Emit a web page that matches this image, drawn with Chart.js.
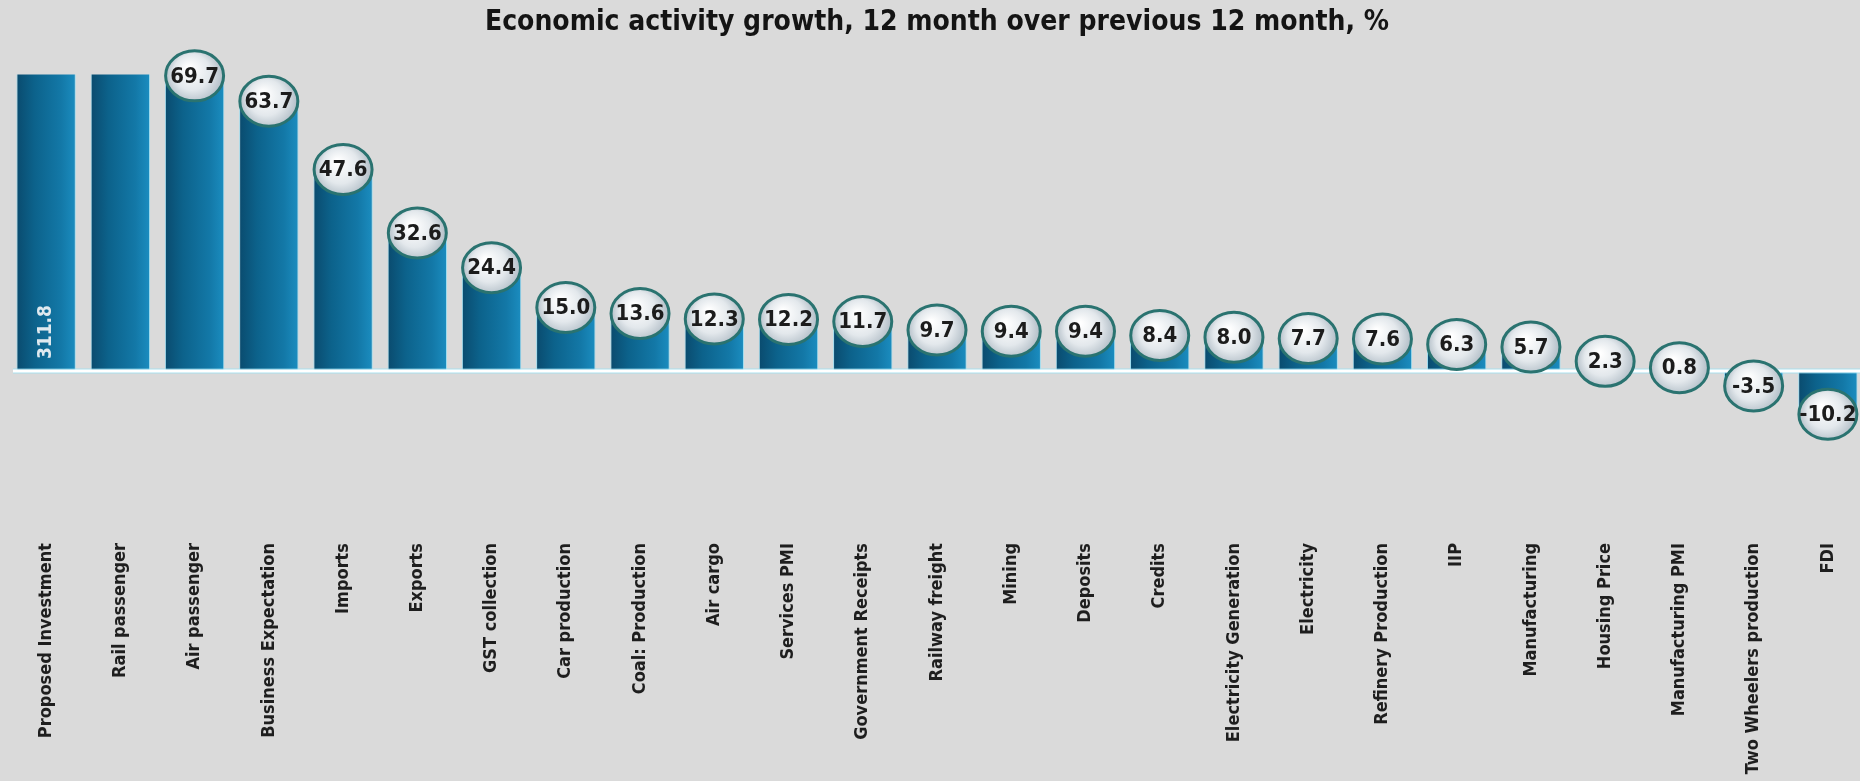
<!DOCTYPE html>
<html>
<head>
<meta charset="utf-8">
<title>Economic activity growth</title>
<script src="https://cdn.jsdelivr.net/npm/chart.js@4.4.1/dist/chart.umd.min.js"></script>
<style>
  html, body { margin: 0; padding: 0; background: #dadada; overflow: hidden; }
  #wrap { width: 1866px; height: 781px; }
</style>
</head>
<body>
<div id="wrap"><canvas id="growthChart" width="1866" height="781"></canvas></div>
<script>
const categories = [
  'Proposed Investment', 'Rail passenger', 'Air passenger', 'Business Expectation',
  'Imports', 'Exports', 'GST collection', 'Car production', 'Coal: Production',
  'Air cargo', 'Services PMI', 'Government Receipts', 'Railway freight', 'Mining',
  'Deposits', 'Credits', 'Electricity Generation', 'Electricity', 'Refinery Production',
  'IIP', 'Manufacturing', 'Housing Price', 'Manufacturing PMI', 'Two Wheelers production', 'FDI'
];
const growth = [
  311.8, 100.0, 69.7, 63.7,
  47.6, 32.6, 24.4, 15.0, 13.6,
  12.3, 12.2, 11.7, 9.7, 9.4,
  9.4, 8.4, 8.0, 7.7, 7.6,
  6.3, 5.7, 2.3, 0.8, -3.5, -10.2
];
const hiddenLabels = ['Rail passenger'];
const axisMin = -38;
const axisMax = 70;
const titleText = 'Economic activity growth, 12 month over previous 12 month, %';

const narrow = '"Liberation Sans Narrow", "DejaVu Sans Condensed", sans-serif';
const barShare = 0.8;

// left-to-right shading, one gradient per bar
function barFill(c) {
  const chart = c.chart;
  const area = chart.chartArea;
  const xScale = chart.scales.x;
  if (!area || !xScale) return '#0e6a96';
  const x = xScale.getPixelForValue(c.dataIndex);
  const w = area.width / categories.length * barShare;
  if (!isFinite(x) || !isFinite(w)) return '#0e6a96';
  const g = chart.ctx.createLinearGradient(x - w / 2, 0, x + w / 2, 0);
  g.addColorStop(0, '#0a4b6e');
  g.addColorStop(0.3, '#0c628b');
  g.addColorStop(0.75, '#1378a7');
  g.addColorStop(1, '#1b8dc0');
  return g;
}

// zero line and the round value badges
const badges = {
  id: 'badges',
  afterDatasetsDraw(chart) {
    const ctx = chart.ctx;
    const area = chart.chartArea;
    const y0 = chart.scales.y.getPixelForValue(0);

    ctx.save();
    ctx.strokeStyle = 'rgba(150, 225, 245, 0.7)';
    ctx.lineWidth = 5;
    ctx.beginPath();
    ctx.moveTo(area.left + 4, y0);
    ctx.lineTo(chart.width, y0);
    ctx.stroke();
    ctx.strokeStyle = '#ffffff';
    ctx.lineWidth = 3;
    ctx.beginPath();
    ctx.moveTo(area.left + 4, y0);
    ctx.lineTo(chart.width, y0);
    ctx.stroke();

    chart.getDatasetMeta(0).data.forEach((bar, i) => {
      const v = growth[i];
      if (hiddenLabels.includes(categories[i])) return;
      const text = v.toFixed(1);
      if (v > axisMax) {
        ctx.save();
        ctx.translate(bar.x, y0 - 39);
        ctx.rotate(-Math.PI / 2);
        ctx.fillStyle = '#dfe9ef';
        ctx.font = 'bold 19px ' + narrow;
        ctx.textAlign = 'center';
        ctx.textBaseline = 'middle';
        ctx.fillText(text, 0, 0);
        ctx.restore();
        return;
      }
      const x = bar.x, y = bar.y;
      const g = ctx.createRadialGradient(x - 6, y - 8, 2, x, y, 31);
      g.addColorStop(0, '#ffffff');
      g.addColorStop(0.55, '#e3e8ec');
      g.addColorStop(1, '#a9b6c0');
      ctx.beginPath();
      ctx.ellipse(x, y, 29, 25, 0, 0, Math.PI * 2);
      ctx.fillStyle = g;
      ctx.fill();
      ctx.lineWidth = 3;
      ctx.strokeStyle = '#2a7370';
      ctx.stroke();
      ctx.fillStyle = '#1c1c1c';
      ctx.font = 'bold 22px ' + narrow;
      ctx.textAlign = 'center';
      ctx.textBaseline = 'middle';
      ctx.fillText(text, x, y + 1);
    });
    ctx.restore();
  }
};

new Chart(document.getElementById('growthChart'), {
  type: 'bar',
  data: {
    labels: categories,
    datasets: [{
      data: growth,
      backgroundColor: barFill,
      borderColor: 'rgba(140, 222, 245, 0.75)',
      borderWidth: 1,
      borderSkipped: 'start',
      categoryPercentage: barShare,
      barPercentage: 1.0
    }]
  },
  options: {
    responsive: false,
    animation: false,
    layout: { padding: { left: 9, right: 1, top: 0, bottom: 0 } },
    plugins: {
      legend: { display: false },
      tooltip: { enabled: false },
      title: {
        display: true,
        text: titleText,
        color: '#141414',
        font: { family: narrow, size: 28, weight: 'bold', lineHeight: 1.2 },
        padding: { top: 6, bottom: 35 }
      }
    },
    scales: {
      x: {
        grid: { display: false, drawTicks: false },
        border: { display: false },
        ticks: {
          autoSkip: false,
          minRotation: 90,
          maxRotation: 90,
          padding: 11,
          color: '#1e1e1e',
          font: { family: narrow, size: 18, weight: 'bold' }
        },
        afterFit(scale) { scale.height = 249; }
      },
      y: {
        display: false,
        min: axisMin,
        max: axisMax
      }
    }
  },
  plugins: [badges]
});
</script>
</body>
</html>
